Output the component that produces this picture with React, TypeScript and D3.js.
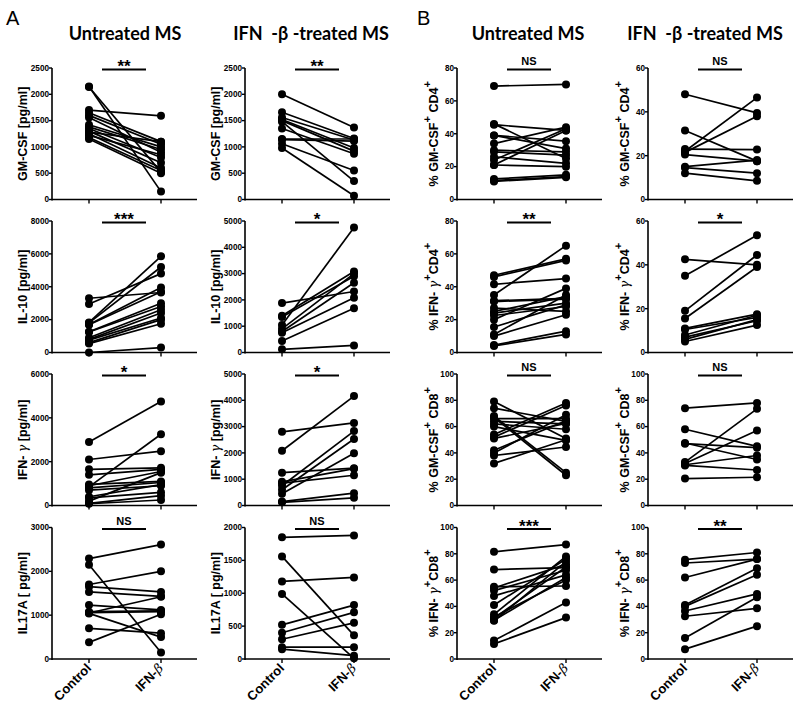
import React from "react";
import * as d3 from "d3";

const groups = ["Control", "IFN-β"];

// [control, IFN-β] pairs per panel
const gmcsfUntreated: [number, number][] = [
  [2150, 150], [2140, 520], [1700, 1590], [1650, 1100], [1600, 1050], [1560, 900], [1420, 1000],
  [1380, 950], [1350, 800], [1300, 700], [1280, 1100], [1250, 600], [1220, 850], [1180, 550], [1150, 500],
];
const gmcsfTreated: [number, number][] = [
  [2000, 1370], [1660, 1160], [1560, 1130], [1520, 980], [1500, 920], [1480, 350], [1350, 870],
  [1150, 1150], [1140, 1110], [1060, 550], [980, 70],
];
const il10Untreated: [number, number][] = [
  [3300, 3650], [2950, 4800], [1830, 5850], [1800, 5200], [1700, 3950], [1690, 3700], [1260, 3000],
  [1250, 2800], [900, 2600], [800, 2400], [750, 2100], [600, 2000], [540, 1750], [0, 300],
];
const il10Treated: [number, number][] = [
  [1880, 2320], [1400, 3080], [1350, 2900], [1050, 4750], [900, 3000], [800, 2650], [750, 2080],
  [440, 1680], [120, 270],
];
const ifngUntreated: [number, number][] = [
  [2900, 4750], [2100, 2480], [1650, 1720], [1400, 1650], [960, 1100], [900, 1550], [850, 3250],
  [800, 1050], [700, 900], [400, 950], [350, 600], [200, 1500], [100, 450], [80, 250],
];
const ifngTreated: [number, number][] = [
  [2800, 3140], [2080, 4160], [1250, 1420], [900, 1400], [850, 1150], [750, 2830], [600, 2530],
  [450, 1990], [150, 470], [120, 290],
];
const il17Untreated: [number, number][] = [
  [2290, 2610], [2150, 150], [1700, 2000], [1650, 1530], [1530, 1430], [1230, 1120], [1080, 1100],
  [1060, 1080], [1050, 1420], [1040, 500], [700, 590], [380, 1020],
];
const il17Treated: [number, number][] = [
  [1850, 1880], [1560, 360], [1180, 1240], [990, 10], [520, 820], [400, 710], [300, 550],
  [180, 180], [150, 50],
];
const gmCd4Untreated: [number, number][] = [
  [69, 70], [46, 25], [45.5, 42], [39, 35.5], [39, 31], [34, 44], [30, 29], [29, 27], [26, 22],
  [24, 43], [21, 42], [21, 20], [12.5, 15], [11.5, 14], [11, 13.5],
];
const gmCd4Treated: [number, number][] = [
  [48, 39.5], [31.5, 17.5], [23, 22.8], [22, 46.5], [21.5, 38], [20.5, 17.5], [15, 18], [14.5, 12],
  [12, 8.5],
];
const ifnCd4Untreated: [number, number][] = [
  [47, 57], [46, 56], [41.5, 45], [35, 65], [31.5, 33], [31, 32.5], [27, 25], [25, 34], [24, 30],
  [22.5, 28], [20, 39], [15.5, 29], [11, 35], [10, 23], [4.5, 13], [4, 11],
];
const ifnCd4Treated: [number, number][] = [
  [42.5, 40], [35, 53.5], [19, 44.5], [15.5, 39], [11, 17.5], [10.5, 16], [8, 17], [7, 14.5],
  [6, 15], [5, 12.5],
];
const gmCd8Untreated: [number, number][] = [
  [79, 51], [74, 64], [68, 25], [67, 23], [66, 66], [64, 62], [62, 58], [60, 49.5], [54, 78],
  [52, 76], [51, 62.5], [42, 64.5], [40, 69], [38, 44.5], [32, 50],
];
const gmCd8Treated: [number, number][] = [
  [74, 78], [58, 45], [47.5, 35], [47, 44], [33, 73.5], [32, 57], [31, 38], [30.5, 27], [20.5, 21.5],
];
const ifnCd8Untreated: [number, number][] = [
  [81.5, 87], [68, 69.5], [55, 55.5], [54, 72], [52, 67.5], [48, 64], [41, 76], [34, 78], [32, 60],
  [31, 70], [29.5, 62], [29, 74], [14, 43], [11.5, 31.5],
];
const ifnCd8Treated: [number, number][] = [
  [75.5, 81], [73, 76], [62, 76], [41, 69], [40, 64], [36.5, 49.5], [32.5, 38.5], [16, 47], [7.5, 25],
];

// axis maxima and tick steps, per row x column
const yMax = [
  [2500, 2500, 80, 60],
  [8000, 5000, 80, 60],
  [6000, 5000, 100, 100],
  [3000, 2000, 100, 100],
];
const yStep = [
  [500, 500, 20, 20],
  [2000, 1000, 20, 20],
  [2000, 1000, 20, 20],
  [1000, 500, 20, 20],
];
const significance = [
  ["**", "**", "NS", "NS"],
  ["***", "*", "**", "*"],
  ["*", "*", "NS", "NS"],
  ["NS", "NS", "***", "**"],
];
const panelData = [
  [gmcsfUntreated, gmcsfTreated, gmCd4Untreated, gmCd4Treated],
  [il10Untreated, il10Treated, ifnCd4Untreated, ifnCd4Treated],
  [ifngUntreated, ifngTreated, gmCd8Untreated, gmCd8Treated],
  [il17Untreated, il17Treated, ifnCd8Untreated, ifnCd8Treated],
];

type Seg = { t: string; sup?: boolean; greek?: boolean };
const cytLabels: Seg[][] = [
  [{ t: "GM-CSF [pg/ml]" }],
  [{ t: "IL-10 [pg/ml]" }],
  [{ t: "IFN- " }, { t: "γ", greek: true }, { t: " [pg/ml]" }],
  [{ t: "IL17A [ pg/ml]" }],
];
const pctLabels: Seg[][] = [
  [{ t: "% GM-CSF" }, { t: "+", sup: true }, { t: " CD4" }, { t: "+", sup: true }],
  [{ t: "% IFN- " }, { t: "γ", greek: true }, { t: "+", sup: true }, { t: "CD4" }, { t: "+", sup: true }],
  [{ t: "% GM-CSF" }, { t: "+", sup: true }, { t: " CD8" }, { t: "+", sup: true }],
  [{ t: "% IFN- " }, { t: "γ", greek: true }, { t: "+", sup: true }, { t: "CD8" }, { t: "+", sup: true }],
];
const colTitles = ["Untreated MS", "IFN  -β -treated MS", "Untreated MS", "IFN  -β -treated MS"];
const sectionLetters = ["A", "B"];

// layout
const COL_X = [52, 245, 457, 648];
const ROW_TOP = [68, 221, 374, 527.5];
const PH = 131.5;
const PW = 145;
const TITLE_DX = [73, 66, 71, 57];

const AX = "'Liberation Sans', Arial, sans-serif";
const LF = 12.5;

function Label({ segs, x, y }: { segs: Seg[]; x: number; y: number }) {
  let cur = 0;
  return (
    <text
      transform={`translate(${x},${y}) rotate(-90)`}
      textAnchor="middle"
      fontFamily={AX}
      fontWeight="bold"
      fontSize={LF}
      fill="#000"
      style={{ whiteSpace: "pre" }}
    >
      {segs.map((s, i) => {
        const target = s.sup ? -7 : 0;
        const dy = target - cur;
        cur = target;
        return (
          <tspan
            key={i}
            dy={dy}
            fontSize={s.sup ? 11 : LF}
            fontFamily={s.greek ? "'DejaVu Serif', serif" : AX}
            fontWeight={s.greek ? "normal" : "bold"}
            fontStyle={s.greek ? "italic" : "normal"}
          >
            {s.t}
          </tspan>
        );
      })}
    </text>
  );
}

function Panel({ r, c }: { r: number; c: number }) {
  const x0 = COL_X[c];
  const top = ROW_TOP[r];
  const bottom = top + PH;
  const max = yMax[r][c];
  const step = yStep[r][c];
  const y = d3.scaleLinear().domain([0, max]).range([bottom, top]);
  const x = d3.scalePoint<string>().domain(groups).range([x0 + 37, x0 + 109]);
  const ticks = d3.range(0, max + step / 2, step);
  const data = panelData[r][c];
  const sig = significance[r][c];
  const isNS = sig === "NS";
  const label = c < 2 ? cytLabels[r] : pctLabels[r];
  const labelX = c < 2 ? x0 - 25.5 : x0 - 19;
  return (
    <g>
      {/* axes */}
      <line x1={x0} x2={x0} y1={top} y2={bottom + 1} stroke="#000" strokeWidth={1.6} />
      <line x1={x0} x2={x0 + PW} y1={bottom} y2={bottom} stroke="#000" strokeWidth={1.6} />
      {ticks.map((t) => (
        <g key={t}>
          <line x1={x0 - 3} x2={x0} y1={y(t)} y2={y(t)} stroke="#000" strokeWidth={1.4} />
          <text
            x={x0 - 3}
            y={y(t)}
            dy="0.35em"
            textAnchor="end"
            fontFamily={AX}
            fontWeight="bold"
            fontSize={8.2}
          >
            {t}
          </text>
        </g>
      ))}
      {groups.map((g) => (
        <line key={g} x1={x(g)} x2={x(g)} y1={bottom} y2={bottom + 4} stroke="#000" strokeWidth={1.4} />
      ))}
      {/* paired lines */}
      {data.map((d, i) => (
        <line
          key={"l" + i}
          x1={x(groups[0])}
          x2={x(groups[1])}
          y1={y(d[0])}
          y2={y(d[1])}
          stroke="#000"
          strokeWidth={1.7}
        />
      ))}
      {data.map((d, i) => (
        <g key={"p" + i}>
          <circle cx={x(groups[0])} cy={y(d[0])} r={4} fill="#000" />
          <circle cx={x(groups[1])} cy={y(d[1])} r={4} fill="#000" />
        </g>
      ))}
      {/* significance */}
      <line x1={x0 + 50} x2={x0 + 94} y1={top + 1.5} y2={top + 1.5} stroke="#000" strokeWidth={2} />
      <text
        x={x0 + 72}
        y={isNS ? top - 3 : top + 4}
        textAnchor="middle"
        fontFamily={AX}
        fontWeight="bold"
        fontSize={isNS ? 11 : 17}
      >
        {sig}
      </text>
      <Label segs={label} x={labelX} y={(top + bottom) / 2} />
      {r === 3 &&
        groups.map((g) => (
          <text
            key={"xl" + g}
            transform={`translate(${(x(g) as number) + 3},${bottom + 10}) rotate(-45)`}
            textAnchor="end"
            fontFamily={AX}
            fontWeight="bold"
            fontSize={13}
          >
            {g === "IFN-β" ? (
              <>
                <tspan>IFN-</tspan>
                <tspan fontFamily="'DejaVu Serif', serif" fontWeight="normal" fontStyle="italic">
                  β
                </tspan>
              </>
            ) : (
              g
            )}
          </text>
        ))}
    </g>
  );
}

export default function App() {
  return (
    <svg
      width={800}
      height={709}
      style={{ position: "absolute", left: 0, top: 0, background: "#fff" }}
    >
      <rect width={800} height={709} fill="#fff" />
      {sectionLetters.map((s, i) => (
        <text key={s} x={i === 0 ? 6 : 417} y={25} fontFamily={AX} fontSize={20}>
          {s}
        </text>
      ))}
      {colTitles.map((t, c) => (
        <text
          key={c}
          x={COL_X[c] + TITLE_DX[c]}
          y={40}
          textAnchor="middle"
          fontFamily="Lato, 'Open Sans', sans-serif"
          fontWeight="bold"
          fontSize={18}
          style={{ whiteSpace: "pre" }}
        >
          {t}
        </text>
      ))}
      {[0, 1, 2, 3].map((r) => [0, 1, 2, 3].map((c) => <Panel key={r + "-" + c} r={r} c={c} />))}
    </svg>
  );
}
